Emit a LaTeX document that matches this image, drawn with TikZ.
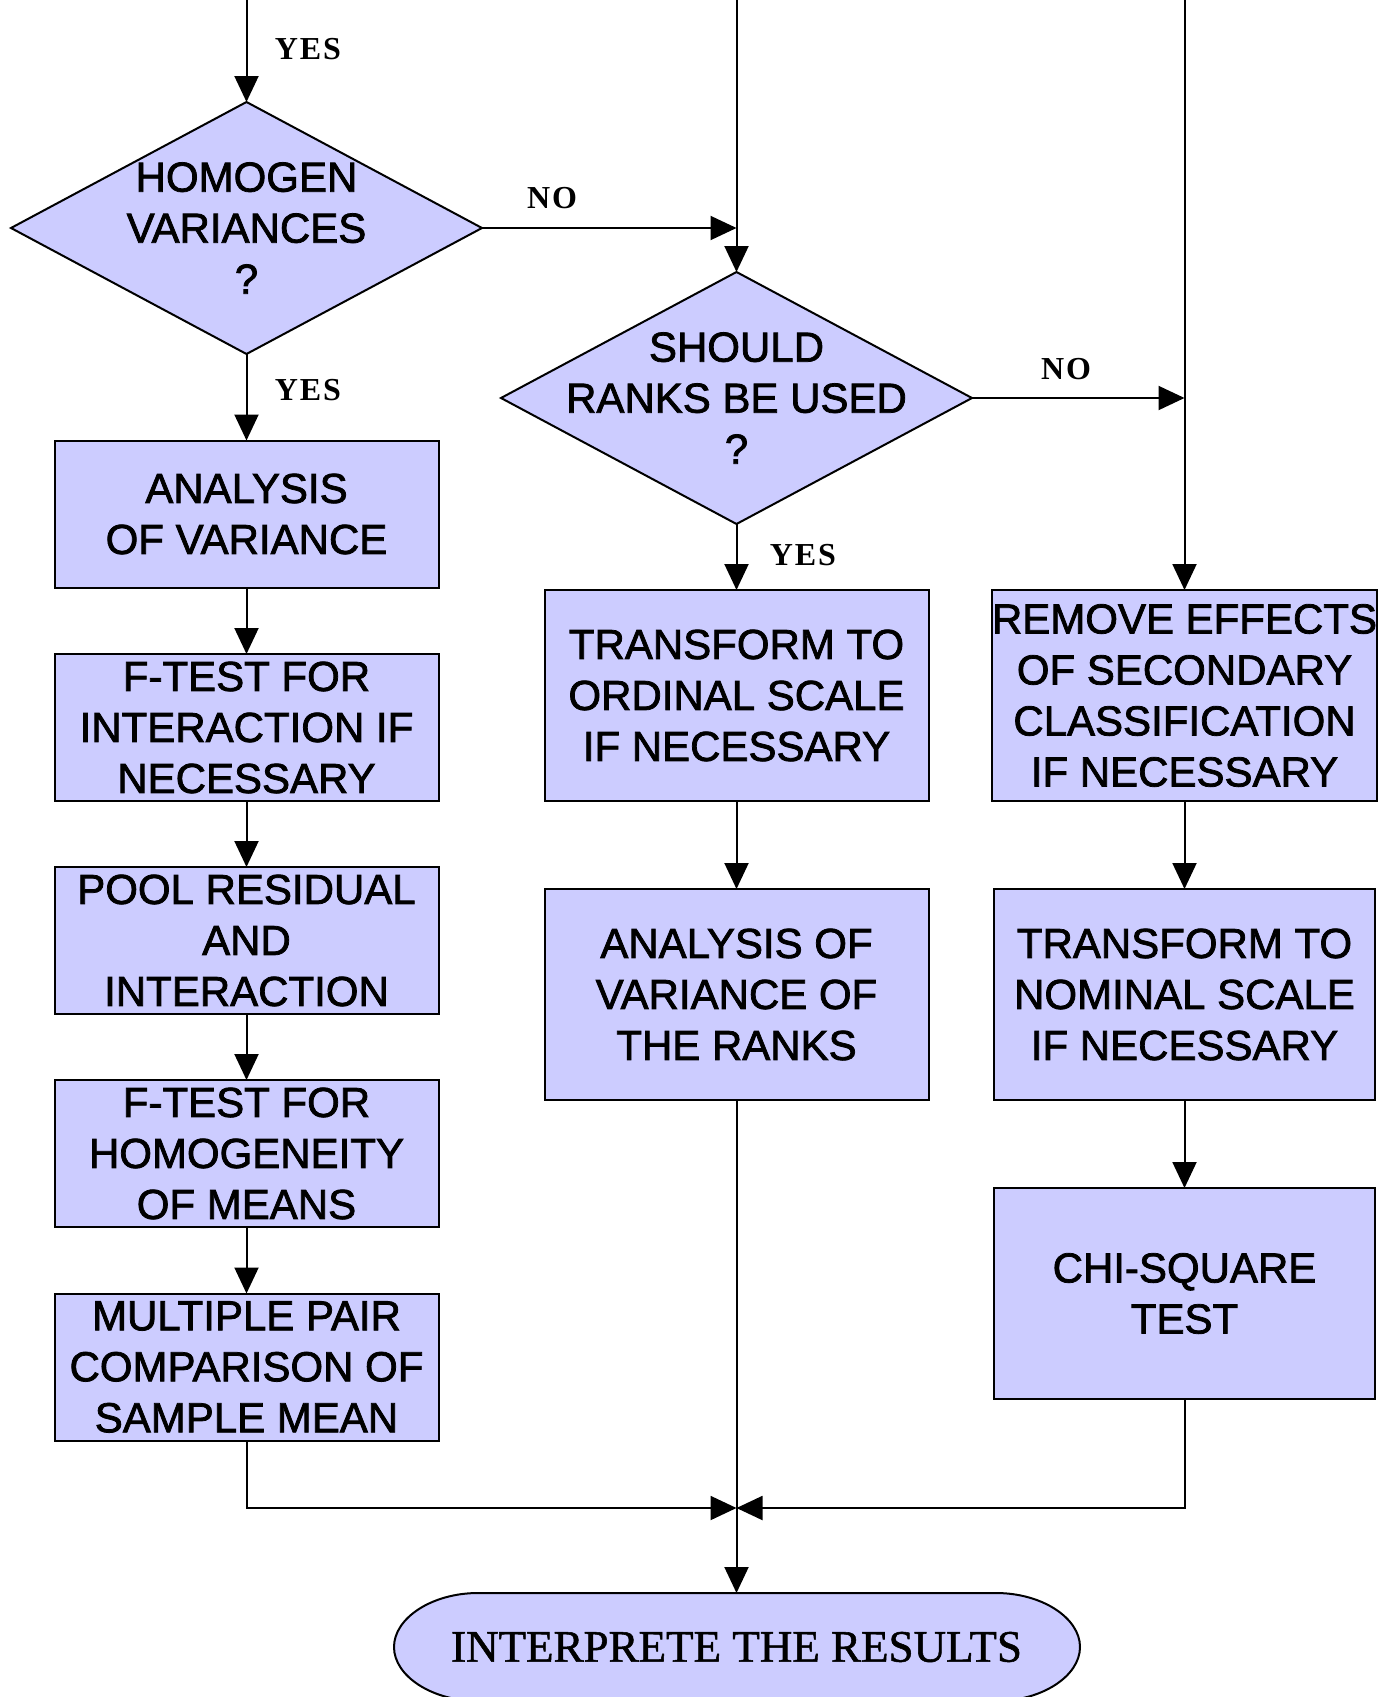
\documentclass[tikz,border=0pt]{standalone}
\usepackage{fontspec}
\setmainfont{Liberation Serif}
\newfontfamily\boxfont[FakeBold=1.8]{Liberation Sans}
\newfontfamily\labelfont[LetterSpace=6]{Liberation Serif Bold}
\newfontfamily\endfont[FakeBold=1.2]{Liberation Serif}
\usetikzlibrary{shapes.geometric,arrows.meta}
\definecolor{lav}{RGB}{204,204,255}
\begin{document}
\begin{tikzpicture}[x=0.5pt,y=-0.5pt,
  line width=1pt,
  every node/.style={inner sep=0pt, outer sep=0pt},
  proc/.style={draw, fill=lav, rectangle, align=center,
    font=\boxfont\fontsize{21}{25.5}\selectfont},
  shortbox/.style={proc, minimum width=192pt, minimum height=73.5pt},
  tallbox/.style={proc, minimum width=192pt, minimum height=105.5pt},
  rightbox/.style={proc, minimum width=190.5pt, minimum height=105.5pt},
  decision/.style={draw, fill=lav, diamond, minimum width=235.5pt, minimum height=126pt},
  dtext/.style={align=center, font=\boxfont\fontsize{21}{25.5}\selectfont},
  lbl/.style={font=\labelfont\fontsize{16}{18}\selectfont},
  arr/.style={-{Triangle[length=13pt,width=12pt]}},
]
\useasboundingbox (0,0) rectangle (1380,1697);
\clip (0,0) rectangle (1380,1697);

% decisions
\node[decision] (d1) at (246.5,228) {};
\node[dtext] (d1t) at (d1.center) {HOMOGEN\\VARIANCES\\?};
\node[decision] (d2) at (736.5,398) {};
\node[dtext] (d2t) at (d2.center) {SHOULD\\RANKS BE USED\\?};

% parametric branch
\node[shortbox] (a1) at (246.5,514) {ANALYSIS\\OF VARIANCE};
\node[shortbox] (a2) at (246.5,727.5) {F-TEST FOR\\INTERACTION IF\\NECESSARY};
\node[shortbox] (a3) at (246.5,940.5) {POOL RESIDUAL\\AND\\INTERACTION};
\node[shortbox] (a4) at (246.5,1153.5) {F-TEST FOR\\HOMOGENEITY\\OF MEANS};
\node[shortbox] (a5) at (246.5,1367) {MULTIPLE PAIR\\COMPARISON OF\\SAMPLE MEAN};

% rank branch
\node[tallbox] (b1) at (736.5,695.5) {TRANSFORM TO\\ORDINAL SCALE\\IF NECESSARY};
\node[tallbox] (b2) at (736.5,994.5) {ANALYSIS OF\\VARIANCE OF\\THE RANKS};

% nominal branch
\node[rightbox] (c1) at (1184.5,695.5) {REMOVE EFFECTS\\OF SECONDARY\\CLASSIFICATION\\IF NECESSARY};
\node[rightbox] (c2) at (1184.5,994.5) {TRANSFORM TO\\NOMINAL SCALE\\IF NECESSARY};
\node[rightbox] (c3) at (1184.5,1293.5) {CHI-SQUARE\\TEST};

% terminal
\draw[fill=lav] (478,1593) -- (996,1593)
  .. controls (1042,1593) and (1080,1618) .. (1080,1647)
  .. controls (1080,1676) and (1042,1701) .. (996,1701)
  -- (478,1701)
  .. controls (432,1701) and (394,1676) .. (394,1647)
  .. controls (394,1618) and (432,1593) .. (478,1593) -- cycle;
\node[font=\endfont\fontsize{22.5}{25}\selectfont] (res) at (736.5,1647) {INTERPRETE THE RESULTS};
\coordinate (restop) at (736.5,1593);

% connectors
\coordinate (o) at (0,0);
\coordinate (t1) at (d1.north |- o);
\coordinate (t2) at (d2.north |- o);
\coordinate (t3) at (c1.north |- o);
\coordinate (j1) at (d2.north |- d1.east);
\coordinate (j2) at (c1.north |- d2.east);
\coordinate (mrg) at (736.5,1508);

\draw[arr] (t1) -- (d1.north);
\draw[arr] (t2) -- (d2.north);
\draw[arr] (t3) -- (c1.north);
\draw[arr] (d1.east) -- (j1);
\draw[arr] (d2.east) -- (j2);
\draw[arr] (d1.south) -- (a1.north);
\draw[arr] (a1.south) -- (a2.north);
\draw[arr] (a2.south) -- (a3.north);
\draw[arr] (a3.south) -- (a4.north);
\draw[arr] (a4.south) -- (a5.north);
\draw[arr] (d2.south) -- (b1.north);
\draw[arr] (b1.south) -- (b2.north);
\draw[arr] (c1.south) -- (c2.north);
\draw[arr] (c2.south) -- (c3.north);
\draw[arr] (a5.south) |- (mrg);
\draw[arr] (c3.south) |- (mrg);
\draw[arr] (b2.south) -- (restop);

% branch labels
\node[lbl] (y1) at (308,49) {YES};
\node[lbl] (y2) at (308,390) {YES};
\node[lbl] (y3) at (803,555) {YES};
\node[lbl] (n1) at (552,198) {NO};
\node[lbl] (n2) at (1066,369) {NO};
\end{tikzpicture}
\end{document}
